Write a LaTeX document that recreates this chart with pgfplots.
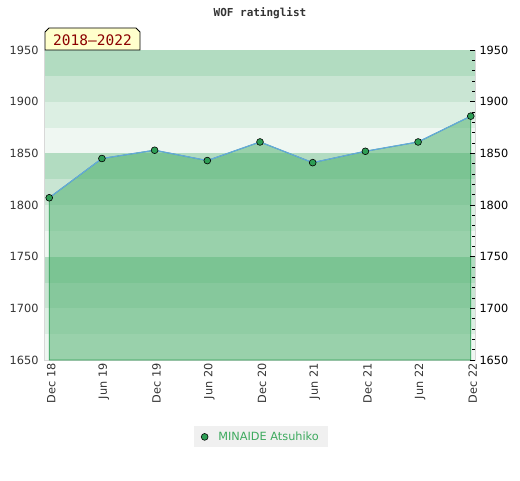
\documentclass[border=0pt]{standalone}
\usepackage{pgfplots}
\pgfplotsset{compat=1.18}
\usepackage{fontspec}
\setmainfont{DejaVu Sans}
\setmonofont{DejaVu Sans Mono}
\definecolor{bandA}{HTML}{B2DCC1}
\definecolor{bandB}{HTML}{C9E5D3}
\definecolor{bandC}{HTML}{DCEFE3}
\definecolor{bandD}{HTML}{EFF7F2}
\definecolor{areagreen}{HTML}{45AD66}
\definecolor{areaedge}{HTML}{2E9E55}
\definecolor{lineblue}{HTML}{64A8DC}
\definecolor{markgreen}{HTML}{2E9E55}
\definecolor{labelgray}{HTML}{333333}
\definecolor{bordergray}{HTML}{D8D8D8}
\definecolor{legendgreen}{HTML}{3DAA5E}
\definecolor{boxyellow}{HTML}{FFFFCC}
\definecolor{boxred}{HTML}{8B0000}
\begin{document}
\begin{tikzpicture}
\useasboundingbox (0,0) rectangle (520pt,480pt);
\begin{axis}[
  at={(45pt,120pt)}, anchor=south west,
  width=430pt, height=310pt, scale only axis,
  xmin=-0.08, xmax=8.08, ymin=1650, ymax=1950,
  xtick={0,...,8},
  xticklabels={Dec 18,Jun 19,Dec 19,Jun 20,Dec 20,Jun 21,Dec 21,Jun 22,Dec 22},
  xticklabel style={rotate=90, anchor=east, font=\fontsize{11.3}{13}\selectfont, text=labelgray, yshift=-2pt},
  ytick={1650,1700,...,1950},
  yticklabel style={font=\fontsize{11.3}{13}\selectfont, text=labelgray, xshift=-3pt},
  /pgf/number format/assume math mode=true,
  /pgf/number format/set thousands separator={},
  major tick length=0pt,
  axis line style={draw=bordergray, line width=1pt},
  legend style={at={(0.502,-0.248)}, anchor=center, fill=black!6, draw=none,
    font=\fontsize{11.3}{13}\selectfont, text=legendgreen, inner xsep=7pt, inner ysep=3.5pt,
    /tikz/every odd column/.append style={column sep=8pt}},
  legend cell align=left,
]
\fill[bandA] (axis cs:-0.08,1925) rectangle (axis cs:8.08,1950);
\fill[bandB] (axis cs:-0.08,1900) rectangle (axis cs:8.08,1925);
\fill[bandC] (axis cs:-0.08,1875) rectangle (axis cs:8.08,1900);
\fill[bandD] (axis cs:-0.08,1850) rectangle (axis cs:8.08,1875);
\fill[bandA] (axis cs:-0.08,1825) rectangle (axis cs:8.08,1850);
\fill[bandB] (axis cs:-0.08,1800) rectangle (axis cs:8.08,1825);
\fill[bandC] (axis cs:-0.08,1775) rectangle (axis cs:8.08,1800);
\fill[bandD] (axis cs:-0.08,1750) rectangle (axis cs:8.08,1775);
\fill[bandA] (axis cs:-0.08,1725) rectangle (axis cs:8.08,1750);
\fill[bandB] (axis cs:-0.08,1700) rectangle (axis cs:8.08,1725);
\fill[bandC] (axis cs:-0.08,1675) rectangle (axis cs:8.08,1700);
\fill[bandD] (axis cs:-0.08,1650) rectangle (axis cs:8.08,1675);
\addplot[draw=areaedge, line width=0.8pt, fill=areagreen, fill opacity=0.5, forget plot]
  coordinates {(0,1650) (0,1807) (1,1845) (2,1853) (3,1843) (4,1861) (5,1841) (6,1852) (7,1861) (8,1886) (8,1650)} -- cycle;
\addplot[color=lineblue, line width=1.2pt, mark=*, mark size=3.4pt,
  mark options={fill=markgreen, draw=black, line width=0.6pt},
  legend image code/.code={\draw[fill=markgreen, draw=black, line width=0.6pt] (0,0) circle (3.4pt);}]
  coordinates {(0,1807) (1,1845) (2,1853) (3,1843) (4,1861) (5,1841) (6,1852) (7,1861) (8,1886)};
\addlegendentry{MINAIDE Atsuhiko}
\end{axis}
\begin{axis}[
  at={(45pt,120pt)}, anchor=south west,
  width=430pt, height=310pt, scale only axis,
  xmin=-0.08, xmax=8.08, ymin=1650, ymax=1950,
  axis x line=none,
  axis y line*=right,
  ytick={1650,1700,...,1950},
  minor y tick num=4,
  tick align=inside,
  major tick length=5pt, minor tick length=3pt,
  tick style={black, line width=0.8pt},
  yticklabel style={font=\fontsize{11.3}{13}\selectfont, text=black, xshift=1pt},
  /pgf/number format/assume math mode=true,
  /pgf/number format/set thousands separator={},
  axis line style={draw=bordergray, line width=1pt},
]
\end{axis}
\node[font=\ttfamily\bfseries\fontsize{11}{13}\selectfont, text=labelgray] at (260pt,467pt) {WOF ratinglist};
\filldraw[fill=boxyellow, draw=black, line width=0.8pt] (45pt,430pt) -- (45pt,448pt) -- (49pt,452pt) -- (136pt,452pt) -- (140pt,448pt) -- (140pt,430pt) -- cycle;
\node[font=\ttfamily\fontsize{14.5}{16}\selectfont, text=boxred] at (92.5pt,440pt) {2018–2022};
\end{tikzpicture}
\end{document}
